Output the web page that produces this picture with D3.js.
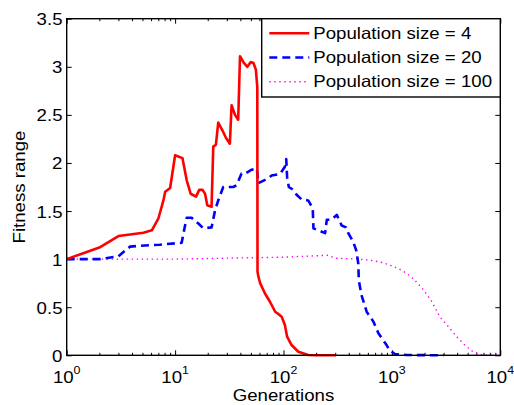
<!DOCTYPE html>
<html>
<head>
<meta charset="utf-8">
<script src="https://cdn.jsdelivr.net/npm/d3@7"></script>
<style>
  body { margin: 0; background: #fff; }
  svg { display: block; font-family: "Liberation Sans", Arial, sans-serif; }
</style>
</head>
<body>
<div id="chart"></div>
<script>
// population size = 4
var gens4 = [1, 2, 3, 5.1, 6.1, 7, 7.8, 8.1, 9, 10, 11.7, 12.8, 13.9, 15.6, 16.7, 17.9, 18.9, 19.8, 21.7, 22.5, 23.8, 25, 27.3, 29.5, 32, 33.2, 35.7, 38.2, 39.7, 43.1, 46.4, 49.9, 52.8, 55.6, 57.3, 57.6, 58.6, 60.9, 67.3, 75, 83.8, 87.8, 96.2, 103, 108, 118.7, 137, 169, 200, 305];
var fit4 = [1.0, 1.12, 1.24, 1.275, 1.30, 1.42, 1.61, 1.70, 1.74, 2.08, 2.05, 1.82, 1.68, 1.65, 1.72, 1.72, 1.68, 1.56, 1.545, 2.17, 2.19, 2.42, 2.34, 2.26, 2.20, 2.60, 2.50, 2.45, 3.11, 3.04, 3.00, 3.05, 3.04, 2.97, 2.79, 0.87, 0.82, 0.75, 0.645, 0.557, 0.453, 0.437, 0.40, 0.315, 0.193, 0.107, 0.037, 0.003, 0, 0];

// population size = 20
var gens20 = [1, 2, 3, 3.84, 4.4, 7.2, 11.5, 12.3, 12.8, 14.2, 16.4, 18.2, 21.7, 23.4, 25, 27.8, 34.4, 37, 41, 44.2, 50.9, 56.8, 58.6, 72, 77.7, 92.8, 103, 106, 108, 112, 123, 132, 147, 169, 186, 189, 209, 242, 251, 278, 310, 344, 377, 396, 440, 472, 490, 495, 523, 585, 675, 751, 808, 893, 945, 1065, 1370, 3000];
var fit20 = [1.0, 1.0, 1.03, 1.13, 1.136, 1.15, 1.17, 1.34, 1.43, 1.43, 1.37, 1.32, 1.33, 1.51, 1.61, 1.75, 1.75, 1.77, 1.89, 1.89, 1.93, 1.94, 1.79, 1.84, 1.87, 1.885, 1.96, 2.04, 1.85, 1.75, 1.72, 1.67, 1.62, 1.61, 1.53, 1.32, 1.30, 1.27, 1.41, 1.41, 1.46, 1.35, 1.33, 1.27, 1.18, 1.08, 0.95, 0.78, 0.63, 0.453, 0.35, 0.23, 0.177, 0.107, 0.055, 0.014, 0.003, 0];

// population size = 100
var gens100 = [1, 10, 30, 100, 200, 260, 300, 500, 675, 830, 1140, 1370, 1620, 1960, 2340, 2770, 3330, 3960, 4700, 5600, 6900, 10000];
var fit100 = [1.0, 1.0, 1.01, 1.02, 1.035, 1.04, 1.01, 1.0, 0.983, 0.963, 0.904, 0.852, 0.783, 0.68, 0.557, 0.40, 0.297, 0.193, 0.107, 0.037, 0.003, 0];

var legendNames = ["Population size = 4", "Population size = 20", "Population size = 100"];
var yTicks = [0, 0.5, 1, 1.5, 2, 2.5, 3, 3.5];
var xMajor = [1, 10, 100, 1000, 10000];
var xExp = ["0", "1", "2", "3", "4"];

var draw = function() {
  var width = 514, height = 405;
  var left = 66.7, right = 500.3, top = 18.7, bottom = 355.3;

  var svg = d3.select("#chart").append("svg")
      .attr("width", width)
      .attr("height", height);

  var x = d3.scaleLog().domain([1, 10000]).range([left, right]);
  var y = d3.scaleLinear().domain([0, 3.5]).range([bottom, top]);

  // text is a bit wider than plain Arial in the reference
  var addText = function(sel, tx, ty, str, anchor, rot) {
    return sel.append("text")
      .attr("transform", "translate(" + tx + "," + ty + ")" + (rot ? " rotate(" + rot + ")" : "") + " scale(1.13,1)")
      .attr("text-anchor", anchor)
      .attr("font-size", 16.5)
      .attr("fill", "#000")
      .text(str);
  };

  var xMinor = [];
  for (var k = 0; k < 4; k++) {
    for (var m = 2; m < 10; m++) xMinor.push(m * Math.pow(10, k));
  }

  // ticks point inward on all four sides
  var tickStyle = function(g) {
    g.select(".domain").remove();
    g.selectAll("line").attr("stroke", "#000").attr("stroke-width", 1);
  };
  svg.append("g").attr("transform", "translate(0," + bottom + ")")
    .call(d3.axisBottom(x).tickValues(xMajor).tickSize(-5).tickFormat(""))
    .call(tickStyle);
  svg.append("g").attr("transform", "translate(0," + bottom + ")")
    .call(d3.axisBottom(x).tickValues(xMinor).tickSize(-2.5).tickFormat(""))
    .call(tickStyle);
  svg.append("g").attr("transform", "translate(0," + top + ")")
    .call(d3.axisTop(x).tickValues(xMajor).tickSize(-5).tickFormat(""))
    .call(tickStyle);
  svg.append("g").attr("transform", "translate(0," + top + ")")
    .call(d3.axisTop(x).tickValues(xMinor).tickSize(-2.5).tickFormat(""))
    .call(tickStyle);
  svg.append("g").attr("transform", "translate(" + left + ",0)")
    .call(d3.axisLeft(y).tickValues(yTicks).tickSize(-5).tickFormat(""))
    .call(tickStyle);
  svg.append("g").attr("transform", "translate(" + right + ",0)")
    .call(d3.axisRight(y).tickValues(yTicks).tickSize(-5).tickFormat(""))
    .call(tickStyle);

  // tick labels
  yTicks.forEach(function(v) {
    addText(svg, 62.5, y(v) + 6.5, String(v), "end");
  });
  xMajor.forEach(function(v, i) {
    var t = addText(svg, x(v), 383.3, "", "middle");
    t.append("tspan").text("10");
    t.append("tspan").attr("font-size", 11).attr("dy", -9.5).text(xExp[i]);
  });

  addText(svg, (left + right) / 2, 401, "Generations", "middle");
  addText(svg, 25, (top + bottom) / 2, "Fitness range", "middle", -90);

  var line = d3.line()
    .x(function(d) { return x(d[0]); })
    .y(function(d) { return y(d[1]); });

  var series = [
    { g: gens100, f: fit100, color: "#ff00ff", width: 1.4, dash: "1.4,3.6" },
    { g: gens20, f: fit20, color: "#0000ff", width: 2.6, dash: "8,5" },
    { g: gens4, f: fit4, color: "#ff0000", width: 2.6, dash: null }
  ];

  series.forEach(function(s) {
    svg.append("path")
      .datum(d3.zip(s.g, s.f))
      .attr("d", line)
      .attr("fill", "none")
      .attr("stroke", s.color)
      .attr("stroke-width", s.width)
      .attr("stroke-dasharray", s.dash)
      .attr("stroke-linejoin", "round");
  });

  // axes box
  svg.append("rect")
    .attr("x", left).attr("y", top)
    .attr("width", right - left).attr("height", bottom - top)
    .attr("fill", "none")
    .attr("stroke", "#000")
    .attr("stroke-width", 1.4);

  // legend
  var lg = svg.append("g");
  lg.append("rect")
    .attr("x", 261.7).attr("y", top)
    .attr("width", right - 261.7).attr("height", 97 - top)
    .attr("fill", "#fff")
    .attr("stroke", "#000")
    .attr("stroke-width", 1.4);
  var legendStyle = [series[2], series[1], series[0]];
  legendNames.forEach(function(name, i) {
    var ly = 33.3 + i * 24.2;
    lg.append("line")
      .attr("x1", 269.3).attr("x2", 309.3)
      .attr("y1", ly).attr("y2", ly)
      .attr("stroke", legendStyle[i].color)
      .attr("stroke-width", legendStyle[i].width)
      .attr("stroke-dasharray", legendStyle[i].dash);
    addText(lg, 313.3, ly + 5.6, name, "start");
  });
};
draw();
</script>
</body>
</html>
